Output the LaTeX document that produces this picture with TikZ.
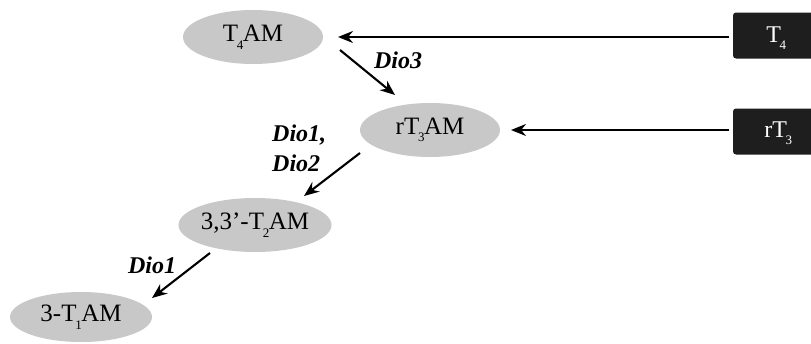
\documentclass[tikz,border=0pt]{standalone}
\usepackage{fontspec}
\setmainfont{Liberation Serif}
\usetikzlibrary{arrows.meta,shapes.geometric,calc}
\definecolor{ellgray}{HTML}{C8C8C8}
\definecolor{boxblack}{HTML}{1E1E1E}
\newcommand{\sbs}[1]{\kern-0.05em\raisebox{-0.3em}{\fontsize{13}{13}\selectfont #1}\kern-0.02em}
\tikzset{
  ell/.style={ellipse, fill=ellgray, inner sep=0pt, minimum width=140pt, minimum height=54pt, font=\fontsize{25}{25}\selectfont},
  blk/.style={rectangle, fill=boxblack, rounded corners=3pt, inner sep=0pt, minimum width=100pt, minimum height=46pt},
  blktext/.style={text=white, font=\fontsize{24}{24}\selectfont, inner sep=0pt},
  arr/.style={line width=2.1pt, -{Stealth[length=15pt,width=12pt]}},
  dio/.style={font=\fontsize{24}{28}\selectfont\bfseries\itshape, align=left, inner sep=0pt}
}
\begin{document}
\begin{tikzpicture}[x=1pt,y=-1pt]
\clip (0,0) rectangle (811,343);
\fill[white] (0,0) rectangle (811,343);
% ellipses
\node[ell] (t4am) at (253,37) {T\sbs{4}AM};
\node[ell] (rt3am) at (430,130) {rT\sbs{3}AM};
\node[ell] (t2am) at (255,225) {3,3’-T\sbs{2}AM};
\node[ell, minimum width=142pt, minimum height=50pt] (t1am) at (81,317) {3-T\sbs{1}AM};
% boxes
\node[blk] (t4) at (783,35.5) {};
\node[blktext] (t4t) at (776,38) {T\sbs{4}};
\node[blk] (rt3) at (783,131.5) {};
\node[blktext] (rt3t) at (778,133) {rT\sbs{3}};
% arrow end coordinates
\coordinate (a1s) at (340,50);
\coordinate (a1e) at (395,95);
\coordinate (a2s) at (360,153);
\coordinate (a2e) at (304,196);
\coordinate (a3s) at (210,253);
\coordinate (a3e) at (152,298);
% arrows
\draw[arr] (t4.west) ++(-4,1.5) coordinate (b1s) -- (338,37) coordinate (b1e);
\draw[arr] (rt3.west) ++(-4,-1.5) coordinate (b2s) -- (511,130) coordinate (b2e);
\draw[arr] (a1s) -- (a1e);
\draw[arr] (a2s) -- (a2e);
\draw[arr] (a3s) -- (a3e);
% labels
\node[dio] (l1) at (398,60) {Dio3};
\node[dio, anchor=west] (l2) at (272,135) {Dio1,};
\node[dio, anchor=west] (l3) at (272,163) {Dio2};
\node[dio] (l4) at (152,265) {Dio1};
\end{tikzpicture}
\end{document}
